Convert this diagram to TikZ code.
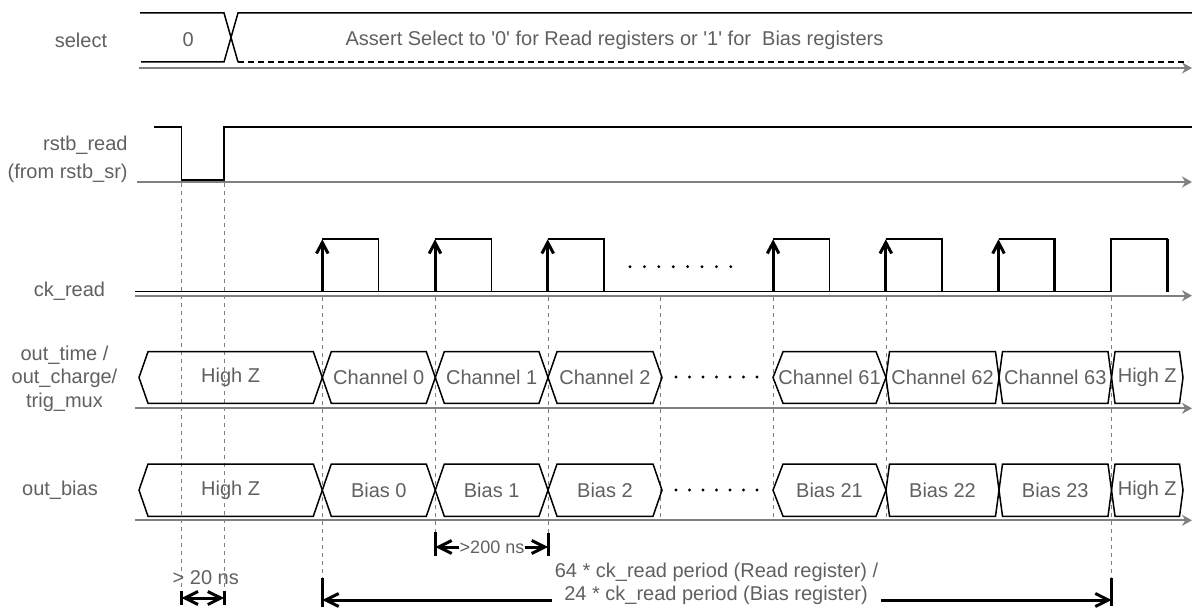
\documentclass[tikz,border=0pt]{standalone}
\usepackage{fontspec}
\setmainfont{Liberation Sans}
\usetikzlibrary{arrows.meta}
\definecolor{txt}{HTML}{606060}
\definecolor{axisc}{HTML}{808080}
\newcommand\busseg[8]{% #1 name, #2 xa, #3 xb, #4 ytop, #5 ybot, #6 left slant, #7 right slant, #8 label
  \draw[sig] (#2,{(#4+#5)/2}) -- ({#2+#6},#4) -- ({#3-#7},#4) -- (#3,{(#4+#5)/2}) -- ({#3-#7},#5) -- ({#2+#6},#5) -- cycle;
  \node[lbl] (#1) at ({(#2+#3)/2},{(#4+#5)/2}) {#8};}
\begin{document}
\begin{tikzpicture}[x=0.5pt,y=-0.5pt,
  sig/.style={line width=0.75pt,black,line join=miter},
  axisline/.style={line width=1pt,draw=axisc,-{Stealth[length=5pt,width=5.5pt]}},
  riseedge/.style={line width=1.5pt,-{Straight Barb[length=5.5pt,width=5.8pt]}},
  thickedge/.style={line width=1.5pt},
  guide/.style={draw=axisc,line width=0.5pt,dash pattern=on 2pt off 2pt},
  lbl/.style={text=txt,font=\fontsize{10pt}{11.75pt}\selectfont,inner sep=0pt},
  smalllbl/.style={text=txt,font=\fontsize{9pt}{11pt}\selectfont,inner sep=0pt},
  dimbar/.style={line width=1.5pt},
  dimarrow/.style={line width=1.5pt,-{Straight Barb[length=6.5pt,width=6.5pt]}},
  dimboth/.style={line width=1.5pt,{Straight Barb[length=6.5pt,width=6.5pt]}-{Straight Barb[length=6.5pt,width=6.5pt]}},
  dotc/.style={fill=black}]
\useasboundingbox (0,0) rectangle (1192,608);

% ---------- labels ----------
\node[lbl] (lsel) at (81,40) {select};
\node[lbl,anchor=east] (lrst) at (128,145) {rstb\_read};
\node[lbl,anchor=east] (lrst2) at (128,173.3) {(from rstb\_sr)};
\node[lbl] (lck) at (69.5,291) {ck\_read};
\node[lbl,align=center] (lout) at (64.5,378.5) {out\_time /\\out\_charge/\\trig\_mux};
\node[lbl] (lbias) at (60,490) {out\_bias};

% ---------- select ----------
\draw[axisline] (139,68) -- (1192,68);
\draw[sig] (140,13) -- (224,13) -- (238,62);
\draw[sig] (141,62) -- (224,62) -- (238,13) -- (1192,13);
\draw[sig,dash pattern=on 3pt off 2pt] (238,62) -- (1188,62);
\node[lbl] (s0) at (188.3,40) {0};
\node[lbl] (sassert) at (614.5,40) {Assert Select to \textquotesingle0\textquotesingle\ for Read registers or \textquotesingle1\textquotesingle\ for~ Bias registers};

% ---------- rstb_read ----------
\draw[axisline] (137,182) -- (1192,182);
\draw[sig] (154,127) -- (181.7,127) -- (181.7,180) -- (224.2,180) -- (224.2,127) -- (1192,127);

% ---------- ck_read ----------
\draw[axisline] (135,295.7) -- (1192,295.7);
\draw[sig] (135,291.7) -- (1111.2,291.7);
\foreach \k in {0,1,2,4,5,6} {
  \pgfmathsetmacro\r{322.3+112.7*\k}
  \pgfmathsetmacro\f{\r+56.4}
  \draw[sig] (\r,239) -- (\f,239) -- (\f,291.7);
  \draw[riseedge] (\r,291.7) -- (\r,239.3);
}
\draw[thickedge] (1054.9,239) -- (1054.9,291.7);
\draw[sig] (1111.2,291.7) -- (1111.2,239) -- (1167.6,239);
\draw[thickedge] (1167.6,239) -- (1167.6,292);
\foreach \i in {0,...,7} \fill[dotc] ({630+14.4*\i},266.7) circle (0.8pt);

% ---------- guides ----------
\draw[guide] (181.7,183) -- (181.7,591);
\draw[guide] (224.2,183) -- (224.2,591);
\draw[guide] (322.3,297) -- (322.3,578);
\draw[guide] (435.3,297) -- (435.3,532);
\draw[guide] (548,297) -- (548,533);
\draw[guide] (660.7,297) -- (660.7,520);
\draw[guide] (773,297) -- (773,520);
\draw[guide] (886,297) -- (886,520);
\draw[guide] (1111.7,297) -- (1111.7,578);

% ---------- out_time row ----------
\draw[axisline] (135,408.3) -- (1192,408.3);
\busseg{c0}{139}{322.3}{351.7}{403.3}{9}{9}{High Z}
\busseg{c1}{322.3}{435.3}{351.7}{403.3}{9}{9}{Channel 0}
\busseg{c2}{435.3}{548}{351.7}{403.3}{9}{9}{Channel 1}
\busseg{c3}{548}{662}{351.7}{403.3}{9}{9}{Channel 2}
\busseg{c4}{773}{886}{351.7}{403.3}{10}{10}{Channel 61}
\busseg{c5}{886}{999}{351.7}{403.3}{3.5}{3.5}{Channel 62}
\busseg{c6}{999}{1111.5}{351.7}{403.3}{3.5}{3.5}{Channel 63}
\busseg{c7}{1111.5}{1183}{351.7}{403.3}{3.5}{3.5}{High Z}
\foreach \i in {0,...,6} \fill[dotc] ({676+13.5*\i},377) circle (0.8pt);

% ---------- out_bias row ----------
\draw[axisline] (135,520.3) -- (1192,520.3);
\busseg{b0}{139}{322.3}{464}{516.3}{9}{9}{High Z}
\busseg{b1}{322.3}{435.3}{464}{516.3}{9}{9}{Bias 0}
\busseg{b2}{435.3}{548}{464}{516.3}{9}{9}{Bias 1}
\busseg{b3}{548}{662}{464}{516.3}{9}{9}{Bias 2}
\busseg{b4}{773}{886}{464}{516.3}{10}{10}{Bias 21}
\busseg{b5}{886}{999}{464}{516.3}{3.5}{3.5}{Bias 22}
\busseg{b6}{999}{1111.5}{464}{516.3}{3.5}{3.5}{Bias 23}
\busseg{b7}{1111.5}{1183}{464}{516.3}{3.5}{3.5}{High Z}
\foreach \i in {0,...,6} \fill[dotc] ({676+13.5*\i},490) circle (0.8pt);

% ---------- dimensions ----------
% > 20 ns
\coordinate (a20l) at (181.7,598);
\coordinate (a20r) at (224.2,598);
\draw[dimbar] (181.7,590.7) -- (181.7,604.5);
\draw[dimbar] (224.2,590.7) -- (224.2,604.5);
\draw[dimboth] (a20l) -- (a20r);
\node[lbl] (t20) at (205.8,577.7) {> 20 ns};
% > 200 ns
\draw[dimbar] (435.3,532) -- (435.3,556);
\draw[dimbar] (548,533) -- (548,556);
\node[smalllbl] (t200) at (492,547) {>200 ns};
\coordinate (a200l) at (435.3,547);
\coordinate (a200r) at (548,547);
\draw[dimarrow] (t200.west) -- (a200l);
\draw[dimarrow] (t200.east) -- (a200r);
% 64 * ck_read period
\draw[dimbar] (322.3,578) -- (322.3,607);
\draw[dimbar] (1111.7,578) -- (1111.7,605.5);
\node[lbl] (tper1) at (716.5,572.7) {64 * ck\_read period (Read register) /};
\node[lbl] (tper2) at (716,595) {24 * ck\_read period (Bias register)};
\coordinate (aperl) at (322.3,600);
\coordinate (aperr) at (1111.7,600);
\coordinate (aperlm) at (552,600);
\coordinate (aperrm) at (881,600);
\draw[dimarrow] (aperlm) -- (aperl);
\draw[dimarrow] (aperrm) -- (aperr);
\end{tikzpicture}
\end{document}
